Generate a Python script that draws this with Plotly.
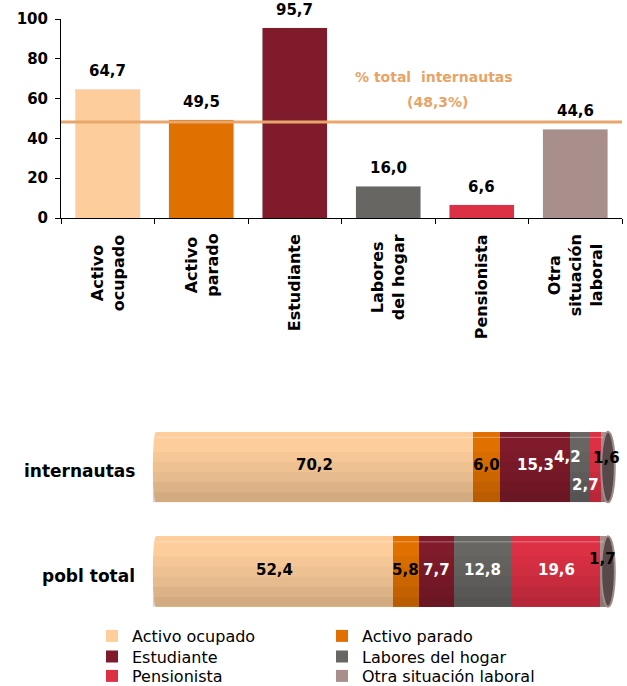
import plotly.graph_objects as go

# ---- data ----
categories = ["Activo ocupado", "Activo parado", "Estudiante",
              "Labores del hogar", "Pensionista", "Otra situación laboral"]
tick_labels = ["Activo<br>ocupado", "Activo<br>parado", "Estudiante",
               "Labores<br>del hogar", "Pensionista", "Otra<br>situación<br>laboral"]
pct_internautas = [64.7, 49.5, 95.7, 16.0, 6.6, 44.6]
total_internautas = 48.3
groups = ["internautas", "pobl total"]
share_internautas = [70.2, 6.0, 15.3, 4.2, 2.7, 1.6]
share_pobl = [52.4, 5.8, 7.7, 12.8, 19.6, 1.7]

# ---- style ----
colors = ["#FDCE9B", "#E07000", "#801B2B", "#686663", "#DC3045", "#A98F8C"]
label_colors = ["black", "black", "white", "white", "white", "black"]
FONT = "DejaVu Sans"
W, H = 627, 686
BAR_H = 0.675  # thickness of stacked bars (category units)
PXU = 4.52     # pixels per percentage unit on the bottom chart


def fmt(v):
    return f"{v:.1f}".replace(".", ",")


fig = go.Figure()

# ---------- top bar chart ----------
fig.add_trace(go.Bar(
    x=categories, y=pct_internautas, marker_color=colors, width=0.7,
    showlegend=False, xaxis="x", yaxis="y", hoverinfo="skip"))

for cat, v in zip(categories, pct_internautas):
    fig.add_annotation(x=cat, y=v, xref="x", yref="y", text=fmt(v),
                       showarrow=False, yanchor="bottom", yshift=7,
                       font=dict(family=FONT, size=15, color="black", weight="bold"))

# rotated category labels (centered lines)
for cat, lab in zip(categories, tick_labels):
    fig.add_annotation(x=cat, y=0, xref="x", yref="y", text=lab,
                       showarrow=False, textangle=-90, align="center",
                       xanchor="center", yanchor="top", yshift=-14,
                       font=dict(family=FONT, size=16, color="black", weight="bold"))

fig.add_shape(type="line", xref="x domain", yref="y", x0=0, x1=1,
              y0=total_internautas, y1=total_internautas,
              line=dict(color="#E8A66C", width=3), layer="above")

line_col = "#E8A467"
fig.add_annotation(x=434 / W, y=1 - 77 / H, xref="paper", yref="paper",
                   text="% total  internautas", showarrow=False,
                   xanchor="center", yanchor="middle",
                   font=dict(family=FONT, size=14, color=line_col, weight="bold"))
fig.add_annotation(x=437 / W, y=1 - 102 / H, xref="paper", yref="paper",
                   text=f"({fmt(total_internautas)}%)", showarrow=False,
                   xanchor="center", yanchor="middle",
                   font=dict(family=FONT, size=14, color=line_col, weight="bold"))

# ---------- bottom stacked "cylinders" ----------
shares = {"internautas": share_internautas, "pobl total": share_pobl}
legend_ids = ["legend", "legend", "legend2", "legend2", "legend3", "legend3"]
for i, cat in enumerate(categories):
    fig.add_trace(go.Bar(
        y=groups, x=[shares[g][i] for g in groups], orientation="h",
        name=cat, marker_color=colors[i], marker_line_width=0, width=BAR_H,
        xaxis="x2", yaxis="y2", hoverinfo="skip", legend=legend_ids[i]))

group_order = ["pobl total", "internautas"]
for g in groups:
    yi = group_order.index(g)
    total = sum(shares[g])
    y0, y1 = yi - BAR_H / 2, yi + BAR_H / 2
    # rounded back of the cylinder on the left
    fig.add_shape(type="circle", xref="x2", yref="y2", x0=-0.7, x1=0.7,
                  y0=y0, y1=y1, fillcolor=colors[0], line_width=0, layer="below")
    # vertical shading (lighter top, darker bottom)
    ops = [0.0, 0.0, 0.03, 0.06, 0.09, 0.13, 0.17]
    nb = len(ops)
    for k, op in enumerate(ops):
        if op == 0:
            continue
        fig.add_shape(type="rect", xref="x2", yref="y2", x0=-0.7, x1=total,
                      y0=y1 - (k + 1) * BAR_H / nb, y1=y1 - k * BAR_H / nb,
                      fillcolor="black", opacity=op, line_width=0, layer="above")
    fig.add_shape(type="line", xref="x2", yref="y2", x0=0, x1=total,
                  y0=y1 - BAR_H * 0.08, y1=y1 - BAR_H * 0.08,
                  line=dict(color="white", width=1), opacity=0.35, layer="above")
    # right end cap
    fig.add_shape(type="circle", xref="x2", yref="y2", x0=total - 1.5,
                  x1=total + 1.5, y0=y0, y1=y1, fillcolor="#574849",
                  line=dict(color="#A08C8A", width=2), layer="above")

# value labels on stacked bars (positions from cumulative sums)
offsets = {
    ("internautas", 3): (-12, 10),
    ("internautas", 4): (-9, -18),
    ("internautas", 5): (2, 9),
    ("pobl total", 5): (-2, 13),
}
for g in groups:
    cum = 0
    for i, v in enumerate(shares[g]):
        mid = cum + v / 2
        cum += v
        dx, dy = offsets.get((g, i), (0, 2))
        fig.add_annotation(x=mid, y=g, xref="x2", yref="y2", text=fmt(v),
                           showarrow=False, xshift=dx, yshift=dy,
                           xanchor="center", yanchor="middle",
                           font=dict(family=FONT, size=15, color=label_colors[i],
                                     weight="bold"))

for g in groups:
    fig.add_annotation(x=137 / W, y=g, xref="paper", yref="y2", text=g,
                       showarrow=False, xanchor="right", yanchor="middle",
                       yshift=-4,
                       font=dict(family=FONT, size=17, color="black", weight="bold"))

legend_style = dict(orientation="h", x=92 / W, xanchor="left",
                    yanchor="middle", entrywidth=185, entrywidthmode="pixels",
                    traceorder="normal", bgcolor="rgba(0,0,0,0)",
                    font=dict(family=FONT, size=16, color="black"),
                    itemclick=False, itemdoubleclick=False)

x2_lo, x2_hi = -2.0, 102.0
fig.update_layout(
    width=W, height=H, autosize=False,
    margin=dict(l=0, r=0, t=0, b=0, autoexpand=False),
    paper_bgcolor="white", plot_bgcolor="white",
    barmode="stack",
    separators=",.",
    font=dict(family=FONT, color="black"),
    xaxis=dict(domain=[61 / W, 622 / W], anchor="y", type="category",
               categoryorder="array", categoryarray=categories,
               showticklabels=False, automargin=False,
               ticks="outside", ticklen=5, tickson="boundaries",
               tickcolor="black", showline=True, linecolor="black", linewidth=1,
               showgrid=False, zeroline=False),
    yaxis=dict(domain=[1 - 218 / H, 1 - 19 / H], anchor="x", range=[0, 100],
               dtick=20, ticks="outside", ticklen=5, tickcolor="black",
               showline=True, linecolor="black", linewidth=1, automargin=False,
               showgrid=False, zeroline=False, ticklabelstandoff=4,
               tickfont=dict(family=FONT, size=15, color="black", weight="bold")),
    xaxis2=dict(domain=[(156 + x2_lo * PXU) / W, (156 + x2_hi * PXU) / W],
                anchor="y2", range=[x2_lo, x2_hi], visible=False),
    yaxis2=dict(domain=[1 - 623.75 / H, 1 - 414.75 / H], anchor="x2",
                type="category", categoryorder="array",
                categoryarray=group_order, range=[-0.5, 1.5],
                visible=False),
    legend=dict(legend_style, y=1 - 636 / H),
    legend2=dict(legend_style, y=1 - 656.5 / H),
    legend3=dict(legend_style, y=1 - 676 / H),
)

fig.write_html("out.html",
               config={"displayModeBar": False, "staticPlot": True},
               post_script="document.body.style.margin='0';"
                           "document.body.style.padding='0';")
